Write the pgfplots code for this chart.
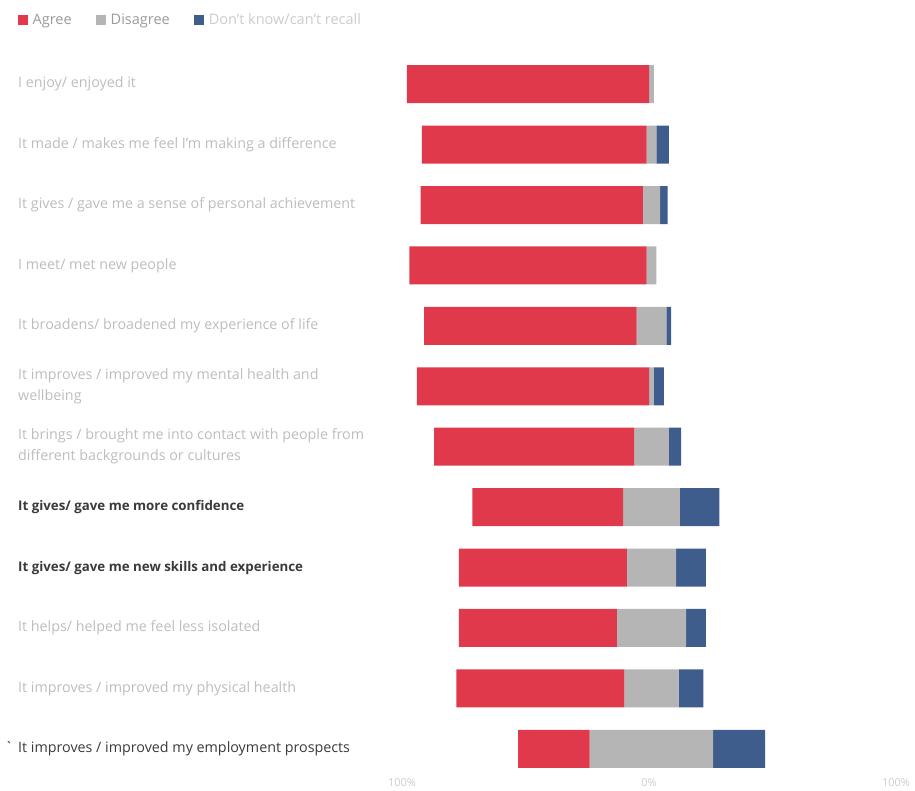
\documentclass[border=0pt]{standalone}
\usepackage{fontspec}
\setmainfont{Open Sans}
\usepackage{pgfplots}
\usepackage{pgfplotstable}
\pgfplotsset{compat=1.18}
\definecolor{agree}{HTML}{E0394B}
\definecolor{disagree}{HTML}{B5B5B5}
\definecolor{dk}{HTML}{3E5C8C}
\definecolor{faded}{HTML}{BDBDBD}
\definecolor{darktext}{HTML}{3A3A3A}
\definecolor{legtext}{HTML}{9A9A9A}
\definecolor{legfade}{HTML}{CCCCCC}
\pgfplotstableread{
idx A D K
0 98 2 0
1 91 4 5
2 90 7 3
3 96 4 0
4 86 12 2
5 94 2 4
6 81 14 5
7 61 23 16
8 68 20 12
9 64 28 8
10 68 22 10
11 29 50 21
}\data
% invisible offset so that the Disagree segment is centred on 0% (axis value 100)
\pgfplotstablecreatecol[expr={101-(\thisrow{A}+0.5*\thisrow{D})}]{O}\data
\begin{document}
\begin{tikzpicture}
\path[use as bounding box] (0,0) rectangle (915pt,790pt);
\begin{axis}[
  at={(402pt,11pt)}, anchor=south west, scale only axis,
  width=494pt, height=725pt,
  xmin=0, xmax=200, ymin=-0.5, ymax=11.5, y dir=reverse,
  xbar stacked, bar width=38pt,
  axis line style={draw=none}, tick style={draw=none},
  xtick={0,100,200}, xticklabels={100\%,0\%,100\%},
  xticklabel style={font=\fontsize{11}{12}\selectfont, text=legfade, yshift=4pt},
  ytick={0,...,11},
  yticklabels={
    {I enjoy/ enjoyed it},
    {It made / makes me feel I'm making a difference},
    {It gives / gave me a sense of personal achievement},
    {I meet/ met new people},
    {It broadens/ broadened my experience of life},
    {It improves / improved my mental health and\\wellbeing},
    {It brings / brought me into contact with people from\\different backgrounds or cultures},
    {\fontsize{13.3}{20}\selectfont\color{darktext}\bfseries It gives/ gave me more confidence},
    {\fontsize{13.3}{20}\selectfont\color{darktext}\bfseries It gives/ gave me new skills and experience},
    {It helps/ helped me feel less isolated},
    {It improves / improved my physical health},
    {\fontsize{14.3}{20}\selectfont\color{darktext}\llap{\textasciigrave\hspace{5pt}}It improves / improved my employment prospects}
  },
  yticklabel style={anchor=west, xshift=-384pt, align=left, inner sep=0pt,
    font=\fontsize{14.3}{21}\selectfont, text=faded},
  legend style={at={(-0.7834,1.0466)}, anchor=west, draw=none, fill=none,
    legend columns=-1, font=\fontsize{14.5}{16}\selectfont,
    /tikz/every odd column/.append style={column sep=3pt},
    /tikz/every even column/.append style={column sep=22.5pt}},
  legend image code/.code={\path[#1, draw=none] (0pt,-4.75pt) rectangle (9.5pt,4.75pt);},
]
\addplot[draw=none, fill=none, forget plot] table[x=O, y=idx]{\data};
\addplot[fill=agree, draw=none] table[x=A, y=idx]{\data};
\addplot[fill=disagree, draw=none] table[x=D, y=idx]{\data};
\addplot[fill=dk, draw=none] table[x=K, y=idx]{\data};
\legend{{\color{legtext}Agree},{\color{legtext}Disagree},{\color{legfade}Don't know/can't recall}}
\end{axis}
\end{tikzpicture}
\end{document}
